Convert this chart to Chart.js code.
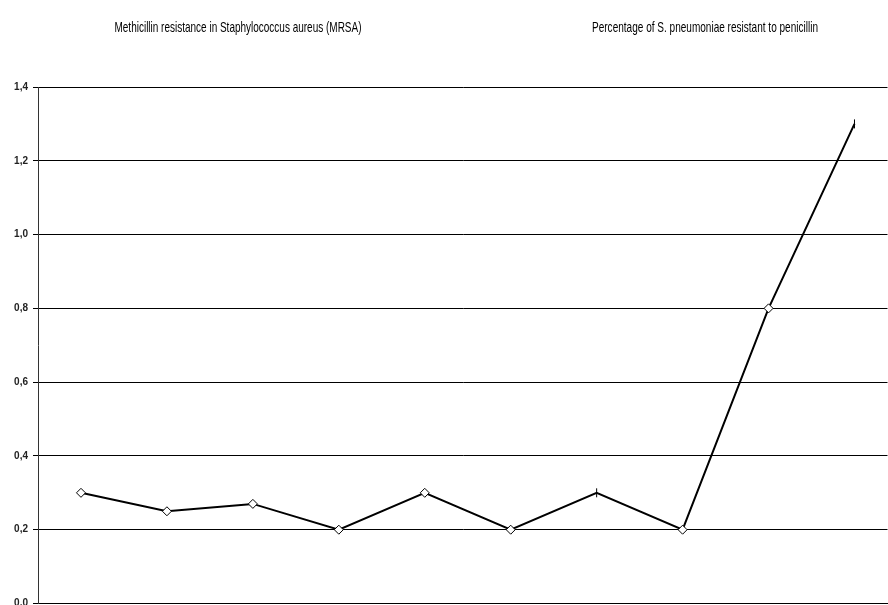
<!DOCTYPE html>
<html>
<head>
<meta charset="utf-8">
<script src="https://cdn.jsdelivr.net/npm/chart.js@4.4.0/dist/chart.umd.min.js"></script>
<style>
  html, body { margin: 0; padding: 0; background: #fff; overflow: hidden; }
  #wrap { width: 893px; height: 609px; }
</style>
</head>
<body>
<div id="wrap"><canvas id="line-chart"></canvas></div>
<script>
// values
var positions = [0, 1, 2, 3, 4, 5, 6, 7, 8, 9];
var values = [0.30, 0.25, 0.27, 0.20, 0.30, 0.20, 0.30, 0.20, 0.80, 1.30];
var markers = ['rectRot', 'rectRot', 'rectRot', 'rectRot', 'rectRot', 'rectRot', 'line', 'rectRot', 'rectRot', 'line'];
var yTicks = [0, 0.2, 0.4, 0.6, 0.8, 1.0, 1.2, 1.4];
var titles = ['Methicillin resistance in Staphylococcus aureus (MRSA)', 'Percentage of S. pneumoniae resistant to penicillin'];

var titlePlugin = {
    id: 'titles',
    afterDraw: function (chart) {
        var c = chart.ctx;
        c.save();
        c.fillStyle = '#000';
        c.font = '15px "Liberation Sans Narrow", "Liberation Sans", Arial';
        c.textBaseline = 'middle';
        c.textAlign = 'center';
        c.fillText(titles[0], 238, 28, 247);
        c.fillText(titles[1], 705, 28, 226);
        c.restore();
    }
};

var ctx = document.getElementById('line-chart');
var chart = new Chart(ctx, {
    type: 'line',
    data: {
        datasets: [{
            data: positions.map(function (p, i) { return { x: p, y: values[i] }; }),
            borderColor: '#000',
            borderWidth: 2,
            pointStyle: markers,
            pointRotation: markers.map(function (m) { return m === 'line' ? 90 : 0; }),
            pointRadius: 4.5,
            pointBackgroundColor: '#fff',
            pointBorderColor: '#000',
            pointBorderWidth: 1,
            tension: 0
        }]
    },
    options: {
        responsive: true,
        maintainAspectRatio: false,
        animation: false,
        layout: { padding: { top: 87, bottom: 2, left: 0, right: 0 } },
        plugins: { legend: { display: false }, tooltip: { enabled: false } },
        scales: {
            x: {
                type: 'linear',
                min: -0.5,
                max: 9.384,
                afterFit: function (axis) {
                    axis.height = 0;
                    axis.paddingLeft = 0;
                    axis.paddingRight = 0;
                },
                grid: { display: false },
                border: { display: true, color: '#000', width: 1 },
                ticks: { display: false }
            },
            y: {
                min: 0,
                max: 1.4,
                afterFit: function (axis) {
                    axis.width = 38;
                    axis.paddingTop = 0;
                    axis.paddingBottom = 0;
                },
                afterBuildTicks: function (axis) {
                    axis.ticks = yTicks.map(function (v) { return { value: v }; });
                },
                grid: { color: '#000', lineWidth: 1, tickLength: 5 },
                border: { display: true, color: '#333', width: 1 },
                ticks: {
                    padding: 5,
                    color: '#222',
                    font: { family: '"Liberation Sans Narrow", "Liberation Sans", Arial', size: 10, weight: 'bold' },
                    callback: function (v) { return v.toFixed(1).replace('.', ','); }
                }
            }
        }
    },
    plugins: [titlePlugin]
});
</script>
</body>
</html>
